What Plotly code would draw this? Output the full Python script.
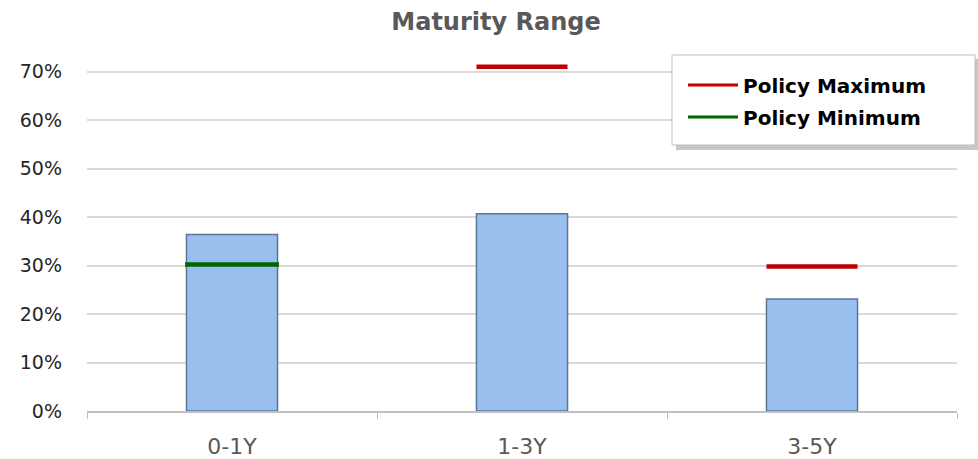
import plotly.graph_objects as go

categories = ["0-1Y", "1-3Y", "3-5Y"]
actual = [0.364, 0.407, 0.231]
policy_max_cats = ["1-3Y", "3-5Y"]
policy_max = [0.71, 0.298]
policy_min_cats = ["0-1Y"]
policy_min = [0.302]
y_ticks = [0, 0.1, 0.2, 0.3, 0.4, 0.5, 0.6, 0.7]

FONT = "'DejaVu Sans', sans-serif"
RED = "#C00000"
GREEN = "#006400"

fig = go.Figure()
fig.add_trace(go.Bar(
    x=categories, y=actual, name="Actual", showlegend=False,
    marker=dict(color="#98BFEE", line=dict(color="#5C7595", width=1.5)),
    width=0.314,
))
# horizontal marks for the policy limits (line-ew length = 1.4 * size)
fig.add_trace(go.Scatter(
    x=policy_max_cats, y=policy_max, mode="markers", name="Policy Maximum",
    marker=dict(symbol="line-ew", size=65, line=dict(color=RED, width=4.5)),
    hoverinfo="skip", showlegend=False,
))
fig.add_trace(go.Scatter(
    x=policy_min_cats, y=policy_min, mode="markers", name="Policy Minimum",
    marker=dict(symbol="line-ew", size=67, line=dict(color=GREEN, width=4.5)),
    hoverinfo="skip", showlegend=False,
))
# legend entries
fig.add_trace(go.Scatter(x=[None], y=[None], mode="lines", name="Policy Maximum",
                         line=dict(color=RED, width=3), legend="legend"))
fig.add_trace(go.Scatter(x=[None], y=[None], mode="lines", name="Policy Minimum",
                         line=dict(color=GREEN, width=3), legend="legend2"))

legend_style = dict(xref="container", yref="container", xanchor="left", yanchor="middle",
                    bgcolor="rgba(0,0,0,0)", borderwidth=0, itemwidth=50,
                    font=dict(family=FONT, size=20, color="#000000", weight="bold"))

fig.update_layout(
    width=978, height=459,
    margin=dict(l=87, r=21, t=62, b=48, autoexpand=False),
    paper_bgcolor="white", plot_bgcolor="white",
    title=dict(text="<b>Maturity Range</b>", x=496 / 978, xanchor="center", y=0.952, yanchor="middle",
               font=dict(family=FONT, size=24, color="#595959")),
    font=dict(family=FONT),
    legend=dict(x=683 / 978, y=1 - 85 / 459, **legend_style),
    legend2=dict(x=683 / 978, y=1 - 117 / 459, **legend_style),
    showlegend=True,
)
fig.update_xaxes(
    type="category", categoryorder="array", categoryarray=categories,
    range=[-0.5, 2.5], automargin=False,
    showline=True, linecolor="#BFBFBF", linewidth=1.5,
    ticks="outside", tickson="boundaries", ticklen=6, tickcolor="#BFBFBF",
    showgrid=False,
    tickfont=dict(family=FONT, size=22, color="#595959"),
    ticklabelstandoff=15,
)
fig.update_yaxes(
    range=[0, 0.72], tickvals=y_ticks, tickformat=".0%", automargin=False,
    showgrid=True, gridcolor="#D9D9D9", gridwidth=1.5,
    zeroline=False, showline=False,
    ticks="", tickfont=dict(family=FONT, size=19, color="#262626"),
    ticklabelstandoff=24,
)

# legend box with drop shadow
fig.add_shape(type="rect", xref="paper", yref="paper",
              x0=0.677, x1=1.0253, y0=0.7479, y1=1.0086,
              fillcolor="rgba(0,0,0,0.22)", line=dict(width=0), layer="above")
fig.add_shape(type="rect", xref="paper", yref="paper",
              x0=0.6724, x1=1.0207, y0=0.7622, y1=1.0201,
              fillcolor="white", line=dict(color="#BFBFBF", width=1), layer="above")

fig.write_html("out.html", config={"displayModeBar": False},
               post_script="document.body.style.margin='0px';")
